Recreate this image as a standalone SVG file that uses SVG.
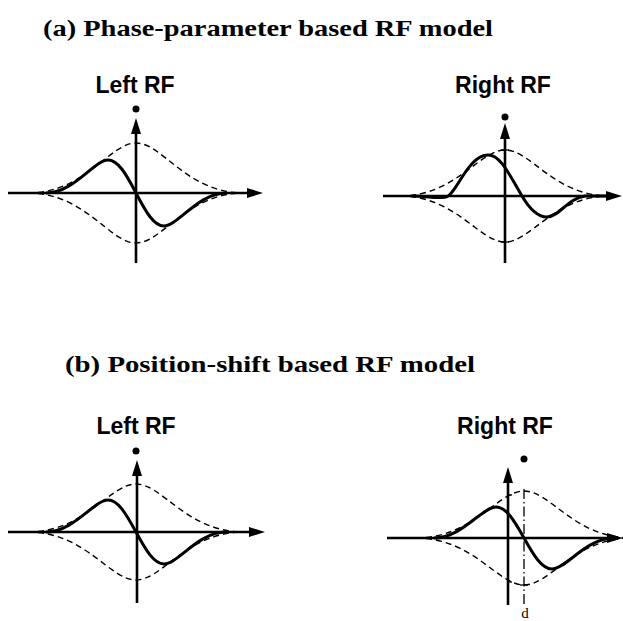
<svg xmlns="http://www.w3.org/2000/svg" width="623" height="621" viewBox="0 0 623 621">
<style>
.title{font-family:"Liberation Serif","DejaVu Serif",serif;font-weight:bold;font-size:24px;fill:#000}
.lbl{font-family:"Liberation Sans",Arial,sans-serif;font-weight:bold;font-size:23px;fill:#000;text-anchor:middle}
.axis{stroke:#000;stroke-width:2.6;fill:none}
.env{stroke:#000;stroke-width:1.4;fill:none;stroke-dasharray:6 4}
.rf{stroke:#000;stroke-width:3;fill:none;stroke-linejoin:round}
.tick{stroke:#000;stroke-width:1.3}
.dd{stroke:#000;stroke-width:1.3;stroke-dasharray:10 3 1.5 3;fill:none}
.d{font-family:"Liberation Serif","DejaVu Serif",serif;font-size:15px;fill:#000;text-anchor:middle}
</style>
<defs>
<marker id="arr" viewBox="0 0 16 10" refX="6" refY="5" markerWidth="16" markerHeight="10" markerUnits="userSpaceOnUse" orient="auto">
<path d="M0,0 L16,5 L0,10 z" fill="#000"/>
</marker>
</defs>
<rect width="623" height="621" fill="#fff"/>
<text class="title" x="43" y="36" textLength="450" lengthAdjust="spacingAndGlyphs">(a) Phase-parameter based RF model</text>
<text class="title" x="65" y="372" textLength="410" lengthAdjust="spacingAndGlyphs">(b) Position-shift based RF model</text>

<g id="a-left">
<text class="lbl" x="135" y="93">Left RF</text>
<circle cx="136" cy="109" r="3.5" fill="#000"/>
<path class="env" d="M28,193 C85.6,193 109.4,143 136,143 C162.6,143 186.4,193 244,193"/>
<path class="env" d="M28,193 C85.6,193 109.4,243 136,243 C162.6,243 186.4,193 244,193"/>
<line class="axis" x1="8" y1="193" x2="253" y2="193" marker-end="url(#arr)"/>
<line class="axis" x1="136" y1="263" x2="136" y2="128" marker-end="url(#arr)"/>
<path class="rf" d="M46,193 C74,193 94,160 108,160 C118,160 126,173.7 136,193 C146,212.3 154,226 164,226 C178,226 198,193 226,193"/>
</g>

<g id="a-right">
<text class="lbl" x="503" y="93">Right RF</text>
<circle cx="505" cy="117" r="3.5" fill="#000"/>
<path class="env" d="M400,196 C456,196 479,150 505,150 C531,150 554,196 610,196"/>
<path class="env" d="M400,196 C456,196 479,242 505,242 C531,242 554,196 610,196"/>
<line class="axis" x1="383" y1="196" x2="612" y2="196" marker-end="url(#arr)"/>
<line class="axis" x1="505" y1="263" x2="505" y2="133" marker-end="url(#arr)"/>
<line class="tick" x1="501" y1="150" x2="509" y2="150"/>
<line class="tick" x1="501" y1="242" x2="509" y2="242"/>
<path class="rf" d="M412,196 C428,196 436,199 446,197 C456,195 468,155 488,155 C500,155 508,172 522,196 C529,208 537,217 547,217 C559,217 568,198 585,196 L612,196"/>
</g>

<g id="b-left">
<text class="lbl" x="136" y="434">Left RF</text>
<circle cx="136" cy="451" r="3.5" fill="#000"/>
<path class="env" d="M28,532 C85.6,532 109.4,484 136,484 C162.6,484 186.4,532 244,532"/>
<path class="env" d="M28,532 C85.6,532 109.4,580 136,580 C162.6,580 186.4,532 244,532"/>
<line class="axis" x1="8" y1="532" x2="255" y2="532" marker-end="url(#arr)"/>
<line class="axis" x1="137" y1="603" x2="137" y2="470" marker-end="url(#arr)"/>
<path class="rf" d="M46,532 C74,532 94,500 108,500 C118,500 126,513.5 136,532 C146,550.5 154,564 164,564 C178,564 198,532 226,532"/>
</g>

<g id="b-right">
<text class="lbl" x="505" y="434">Right RF</text>
<circle cx="524" cy="459" r="3.5" fill="#000"/>
<path class="env" d="M416,538 C473.6,538 497.4,491 524,491 C550.6,491 574.4,538 632,538"/>
<path class="env" d="M416,538 C473.6,538 497.4,585 524,585 C550.6,585 574.4,538 632,538"/>
<line class="axis" x1="387" y1="538" x2="613" y2="538" marker-end="url(#arr)"/>
<line class="axis" x1="508" y1="605" x2="508" y2="477" marker-end="url(#arr)"/>
<line class="tick" x1="508" y1="495" x2="512" y2="495"/>
<line class="tick" x1="508" y1="582" x2="512" y2="582"/>
<line class="tick" x1="520" y1="585" x2="528" y2="585"/>
<line class="dd" x1="524" y1="489" x2="524" y2="606"/>
<path class="rf" d="M434,538 C462,538 482,507 496,507 C506,507 514,520 524,538 C534,556 542,569 552,569 C566,569 586,538 614,538"/>
<text class="d" x="525" y="618">d</text>
</g>
</svg>
